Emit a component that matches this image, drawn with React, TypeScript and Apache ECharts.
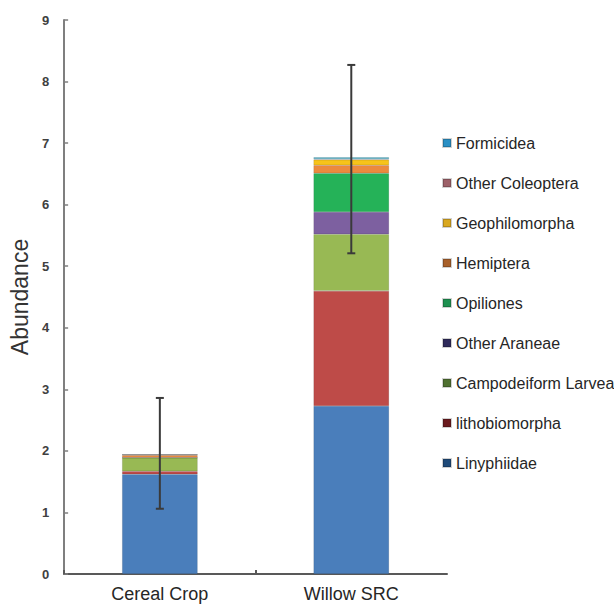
import React, { useEffect, useRef } from "react";
import * as echarts from "echarts";

const categories = ["Cereal Crop", "Willow SRC"];
const seriesNames = [
  "Linyphiidae",
  "lithobiomorpha",
  "Campodeiform Larvea",
  "Other Araneae",
  "Opiliones",
  "Hemiptera",
  "Geophilomorpha",
  "Other Coleoptera",
  "Formicidea",
];
const linyphiidae = [1.62, 2.73];
const lithobiomorpha = [0.05, 1.87];
const campodeiform = [0.22, 0.92];
const otherAraneae = [0, 0.36];
const opiliones = [0, 0.63];
const hemiptera = [0.04, 0.13];
const geophilomorpha = [0.01, 0.09];
const otherColeoptera = [0, 0.01];
const formicidea = [0, 0.03];
const seriesValues = [
  linyphiidae,
  lithobiomorpha,
  campodeiform,
  otherAraneae,
  opiliones,
  hemiptera,
  geophilomorpha,
  otherColeoptera,
  formicidea,
];
const errorLow = [1.06, 5.21];
const errorHigh = [2.86, 8.27];
const yTicks = [0, 1, 2, 3, 4, 5, 6, 7, 8, 9];

const barColors = [
  "#4a7ebb",
  "#be4b48",
  "#98b954",
  "#7d60a0",
  "#25b258",
  "#ec8a3e",
  "#f7c31a",
  "#a06a6e",
  "#4bacc6",
];
const legendColors = [
  "#1f4a78",
  "#6a1a1e",
  "#4f7030",
  "#2e2a5a",
  "#1e9050",
  "#a8602a",
  "#d9a820",
  "#9c6068",
  "#2a8fc4",
];

const FONT = "Liberation Sans, Arial, sans-serif";

export default function App() {
  const ref = useRef<HTMLDivElement>(null);
  useEffect(() => {
    if (!ref.current) return;
    const chart = echarts.init(ref.current, undefined, { renderer: "svg" });
    const barSeries = seriesNames.map((name, i) => ({
      name,
      type: "bar",
      stack: "total",
      barWidth: "39.5%",
      data: seriesValues[i],
      itemStyle: {
        color: barColors[i],
        borderColor: "rgba(0,0,0,0.18)",
        borderWidth: 0.6,
      },
    }));
    const errData = categories.map((_, i) => [i, errorLow[i], errorHigh[i]]);
    const option = {
      animation: false,
      backgroundColor: "#ffffff",
      textStyle: { fontFamily: FONT },
      grid: { left: 62, right: 167, top: 20, bottom: 32, containLabel: false },
      legend: {
        orient: "vertical",
        left: 437,
        top: 129,
        icon: "rect",
        itemWidth: 8,
        itemHeight: 8,
        itemGap: 22,
        textStyle: {
          fontSize: 16,
          color: "#262626",
          lineHeight: 18,
          fontFamily: FONT,
        },
        data: seriesNames
          .map((name, i) => ({ name, itemStyle: { color: legendColors[i] } }))
          .reverse(),
      },
      xAxis: {
        type: "category",
        data: categories,
        axisLine: { lineStyle: { color: "#595959", width: 2 } },
        axisTick: { show: true, inside: true, length: 4, lineStyle: { color: "#595959", width: 2 } },
        axisLabel: {
          fontSize: 18,
          color: "#262626",
          margin: 11,
          fontFamily: FONT,
        },
      },
      yAxis: {
        type: "value",
        min: yTicks[0],
        max: yTicks[yTicks.length - 1],
        interval: 1,
        name: "Abundance",
        nameLocation: "middle",
        nameGap: 33,
        nameTextStyle: {
          fontSize: 23,
          color: "#333333",
          fontFamily: FONT,
        },
        splitLine: { show: false },
        axisLine: { show: true, lineStyle: { color: "#7f7f7f", width: 2 } },
        axisTick: { show: true, inside: true, length: 4, lineStyle: { color: "#7f7f7f", width: 1.5 } },
        axisLabel: {
          fontSize: 13,
          fontWeight: "bold",
          color: "#404040",
          margin: 15,
          fontFamily: FONT,
        },
      },
      series: [
        ...barSeries,
        {
          name: "error",
          type: "custom",
          data: errData,
          encode: { x: 0, y: [1, 2] },
          z: 10,
          renderItem: (params: any, api: any) => {
            const x = api.value(0);
            const lo = api.coord([x, api.value(1)]);
            const hi = api.coord([x, api.value(2)]);
            const cap = 4;
            const style = { stroke: "#3a3a3a", lineWidth: 2 };
            return {
              type: "group",
              children: [
                { type: "line", shape: { x1: lo[0], y1: lo[1], x2: hi[0], y2: hi[1] }, style },
                { type: "line", shape: { x1: hi[0] - cap, y1: hi[1], x2: hi[0] + cap, y2: hi[1] }, style },
                { type: "line", shape: { x1: lo[0] - cap, y1: lo[1], x2: lo[0] + cap, y2: lo[1] }, style },
              ],
            };
          },
        },
      ],
    };
    chart.setOption(option as any);
    return () => chart.dispose();
  }, []);
  return (
    <div
      ref={ref}
      style={{ position: "fixed", left: 0, top: 0, width: 614, height: 606, background: "#fff" }}
    />
  );
}
